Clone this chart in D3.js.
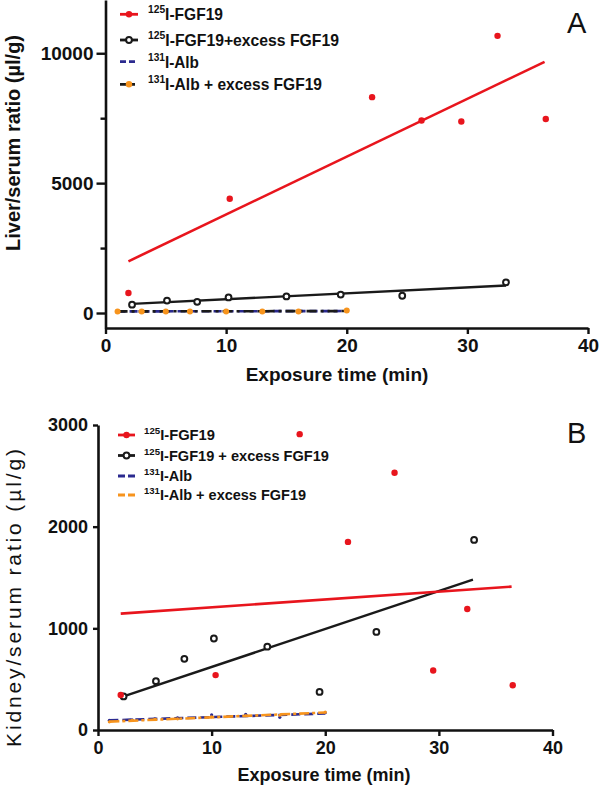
<!DOCTYPE html>
<html><head><meta charset="utf-8">
<script src="https://cdn.jsdelivr.net/npm/d3@7"></script>
<style>body{margin:0;background:#fff}svg{display:block}text{font-family:"Liberation Sans",Arial,sans-serif}</style>
</head><body>
<svg id="c" width="600" height="787"></svg>
<script>
// ---------- DATA ----------
// Panel A (liver)
const timesRedA = [1.9, 10.3, 22.1, 26.2, 29.5, 32.5, 36.5];
const valsRedA  = [770, 4400, 8310, 7410, 7370, 10670, 7470];
const fitRedA   = [[1.9, 1990], [36.4, 9670]];
const timesBlkA = [2.2, 5.1, 7.6, 10.2, 15.0, 19.5, 24.6, 33.2];
const valsBlkA  = [320, 480, 430, 600, 640, 710, 665, 1180];
const fitBlkA   = [[2.2, 350], [33.2, 1060]];
const timesAlb  = [1, 3, 5, 7, 10, 13, 16, 20];
const valsAlbA   = [60, 62, 65, 66, 70, 72, 75, 80];
const valsAlbExA = [62, 62, 62, 62, 62, 62, 62, 100];
const fitAlbA    = [[1, 62], [20, 75]];
const fitAlbExA  = [[1, 62], [20, 75]];
// Panel B (kidney)
const timesRedB = [2.0, 10.35, 17.75, 22.0, 26.1, 29.5, 32.5, 36.5];
const valsRedB  = [345, 540, 2910, 1850, 2530, 585, 1190, 440];
const fitRedB   = [[2.0, 1145], [36.4, 1410]];
const timesBlkB = [2.25, 5.1, 7.6, 10.2, 14.9, 19.5, 24.5, 33.1];
const valsBlkB  = [330, 480, 700, 900, 820, 375, 965, 1870];
const fitBlkB   = [[2.25, 330], [33.0, 1480]];
const valsAlbB   = [95, 100, 110, 120, 150, 155, 125, 170];
const valsAlbExB = [80, 95, 105, 110, 130, 140, 145, 175];
const fitAlbB    = [[1, 95], [20, 162]];
const fitAlbExB  = [[1, 82], [20, 172]];
// ticks / labels
const xTicks = [0, 10, 20, 30, 40];
const yTicksA = [0, 5000, 10000];
const yMinorA = [2500, 7500];
const yTicksB = [0, 1000, 2000, 3000];
const legendA = [["125","I-FGF19"],["125","I-FGF19+excess FGF19"],["131","I-Alb"],["131","I-Alb + excess FGF19"]];
const legendB = [["125","I-FGF19"],["125","I-FGF19 + excess FGF19"],["131","I-Alb"],["131","I-Alb + excess FGF19"]];

const RED="#e8151d", BLK="#1a1a1a", NAVY="#2b2a8f", ORA="#f7941d";
const svg = d3.select("#c");

function panel(cfg){
  const g = svg.append("g");
  const x = d3.scaleLinear().domain([0,40]).range(cfg.xr);
  const y = d3.scaleLinear().domain(cfg.yd).range(cfg.yr);
  const axBottom = cfg.yr[0];
  const xa = g.append("g").attr("transform",`translate(0,${axBottom})`)
    .call(d3.axisBottom(x).tickValues(xTicks).tickSize(cfg.xtick).tickSizeOuter(0).tickPadding(cfg.xpad));
  xa.select(".domain").attr("stroke-width",2.6).attr("stroke","#111");
  xa.selectAll(".tick line").attr("stroke-width",2.4).attr("stroke","#111");
  xa.selectAll("text").attr("font-size",cfg.tickFont).attr("font-weight","bold").attr("fill","#111");
  const ya = g.append("g").attr("transform",`translate(${cfg.xr[0]},0)`)
    .call(d3.axisLeft(y).tickValues(cfg.yTicks).tickSize(cfg.ytick).tickSizeOuter(0).tickPadding(cfg.ypad).tickFormat(d3.format("d")));
  ya.select(".domain").attr("stroke-width",2.6).attr("stroke","#111");
  ya.selectAll(".tick line").attr("stroke-width",2.4).attr("stroke","#111");
  ya.selectAll("text").attr("font-size",cfg.tickFont).attr("font-weight","bold").attr("fill","#111");
  if(cfg.yMinor){
    const ym = g.append("g").attr("transform",`translate(${cfg.xr[0]},0)`)
      .call(d3.axisLeft(y).tickValues(cfg.yMinor).tickSize(5).tickSizeOuter(0).tickFormat(""));
    ym.select(".domain").remove();
    ym.selectAll(".tick line").attr("stroke-width",2.4).attr("stroke","#111");
  }
  const line = d3.line().x(d=>x(d[0])).y(d=>y(d[1]));
  cfg.albLines.forEach(a=>{
    g.append("path").datum(a.fit).attr("d",line).attr("fill","none").attr("stroke",a.color)
      .attr("stroke-width",2.6).attr("stroke-dasharray",a.dash);
    g.selectAll(null).data(timesAlb.map((t,i)=>[t,a.vals[i]])).join("circle")
      .attr("cx",d=>x(d[0])).attr("cy",d=>y(d[1])).attr("r",a.r).attr("fill",a.mcolor);
  });
  g.append("path").datum(cfg.blkFit).attr("d",line).attr("fill","none").attr("stroke",BLK).attr("stroke-width",2.4);
  g.selectAll(null).data(cfg.blkT.map((t,i)=>[t,cfg.blkV[i]])).join("circle")
    .attr("cx",d=>x(d[0])).attr("cy",d=>y(d[1])).attr("r",2.9).attr("fill","#fff").attr("stroke",BLK).attr("stroke-width",2);
  g.append("path").datum(cfg.redFit).attr("d",line).attr("fill","none").attr("stroke",RED).attr("stroke-width",2.6);
  g.selectAll(null).data(cfg.redT.map((t,i)=>[t,cfg.redV[i]])).join("circle")
    .attr("cx",d=>x(d[0])).attr("cy",d=>y(d[1])).attr("r",3.2).attr("fill",RED);
  g.append("text").attr("x",cfg.xtitle[0]).attr("y",cfg.xtitle[1]).attr("text-anchor","middle")
    .attr("font-size",cfg.xtitleFont).attr("font-weight","bold").attr("fill","#111").text("Exposure time (min)");
  const yt = g.append("text").attr("transform",`translate(${cfg.ytitle[0]},${cfg.ytitle[1]}) rotate(-90)`)
    .attr("text-anchor","middle").attr("font-size",cfg.ytitleFont).attr("font-weight",cfg.ytitleWeight)
    .attr("fill","#111").text(cfg.ytitleText);
  if(cfg.ytitleLen) yt.attr("textLength",cfg.ytitleLen).attr("lengthAdjust","spacing");
  g.append("text").attr("x",cfg.letterPos[0]).attr("y",cfg.letterPos[1]).attr("font-size",29).attr("fill","#111").text(cfg.letter);
  const lg = g.append("g");
  cfg.legend.forEach((L,i)=>{
    const cy = cfg.legY[i];
    const [x0,x1] = cfg.legX;
    const st = cfg.legStyles[i];
    lg.append("line").attr("x1",x0).attr("x2",x1).attr("y1",cy).attr("y2",cy)
      .attr("stroke",st.color).attr("stroke-width",2.8).attr("stroke-dasharray",st.dash||null);
    if(st.marker==="dot") lg.append("circle").attr("cx",(x0+x1)/2).attr("cy",cy).attr("r",3.2).attr("fill",st.mcolor);
    if(st.marker==="open") lg.append("circle").attr("cx",(x0+x1)/2).attr("cy",cy).attr("r",2.9).attr("fill","#fff").attr("stroke",BLK).attr("stroke-width",2);
    const t = lg.append("text").attr("x",cfg.legTextX).attr("y",cy+cfg.legFont*0.36)
      .attr("font-size",cfg.legFont).attr("font-weight","bold").attr("fill","#111")
      .attr("textLength",cfg.legLen[i]).attr("lengthAdjust","spacingAndGlyphs");
    t.append("tspan").attr("font-size",cfg.legFont*0.66).attr("dy",-cfg.legFont*0.42).text(L[0]);
    t.append("tspan").attr("dy",cfg.legFont*0.42).text(L[1]);
  });
}

panel({
  xr:[105.5,588], yd:[-577,12050], yr:[328,0], yTicks:yTicksA, yMinor:yMinorA,
  xtick:6, xpad:5, ytick:9, ypad:3, tickFont:19,
  redT:timesRedA, redV:valsRedA, redFit:fitRedA,
  blkT:timesBlkA, blkV:valsBlkA, blkFit:fitBlkA,
  albLines:[
    {fit:fitAlbA, vals:valsAlbA, color:NAVY, dash:"8,4", r:0, mcolor:NAVY},
    {fit:fitAlbExA, vals:valsAlbExA, color:BLK, dash:"10,4,3,4", r:3, mcolor:ORA}
  ],
  xtitle:[337,381], xtitleFont:19,
  ytitle:[20,143], ytitleFont:20, ytitleWeight:"bold", ytitleText:"Liver/serum ratio (µl/g)",
  letter:"A", letterPos:[567,33],
  legend:legendA, legY:[14.3,40,61.7,84.3], legX:[120,138], legTextX:148, legFont:16.5,
  legLen:[75,191,51,174],
  legStyles:[{color:RED,marker:"dot",mcolor:RED},{color:BLK,marker:"open"},{color:NAVY,dash:"6,3"},{color:BLK,dash:"6,3",marker:"dot",mcolor:ORA}]
});

panel({
  xr:[98,552.5], yd:[0,3000], yr:[730,425], yTicks:yTicksB,
  xtick:6, xpad:5, ytick:5, ypad:5, tickFont:18,
  redT:timesRedB, redV:valsRedB, redFit:fitRedB,
  blkT:timesBlkB, blkV:valsBlkB, blkFit:fitBlkB,
  albLines:[
    {fit:fitAlbB, vals:valsAlbB, color:NAVY, dash:"9,4", r:1.6, mcolor:NAVY},
    {fit:fitAlbExB, vals:valsAlbExB, color:ORA, dash:"10,3,3,3", r:1.6, mcolor:ORA}
  ],
  xtitle:[324,781], xtitleFont:18,
  ytitle:[21,598], ytitleFont:21, ytitleWeight:"normal", ytitleText:"Kidney/serum ratio (µl/g)", ytitleLen:298,
  letter:"B", letterPos:[567,443],
  legend:legendB, legY:[435,455.5,476,495], legX:[118,135], legTextX:144, legFont:15,
  legLen:[71,185,48,162],
  legStyles:[{color:RED,marker:"dot",mcolor:RED},{color:BLK,marker:"open"},{color:NAVY,dash:"7,3"},{color:ORA,dash:"7,3"}]
});
</script>
</body></html>
